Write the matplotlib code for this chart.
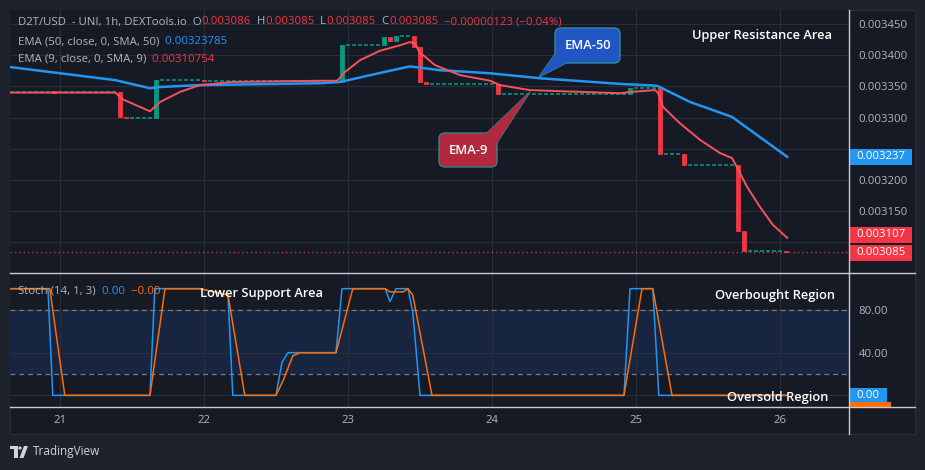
import numpy as np
import matplotlib
matplotlib.use('Agg')
from matplotlib import pyplot as plt
from matplotlib.patches import Rectangle, Polygon, FancyBboxPatch, Circle
from matplotlib.lines import Line2D

plt.rcParams['font.family'] = ['Open Sans', 'DejaVu Sans']

# hours counted from 21st 00:00
candle_hours = [-1, 10, 11, 16, 24, 47, 54, 55, 56, 59, 60, 61, 73, 95, 100, 104, 113, 114, 121]
candle_open = [0.003342, 0.003341, 0.003301, 0.003299, 0.003361, 0.003357, 0.003416, 0.003429,
               0.003423, 0.003431, 0.003413, 0.003357, 0.003354, 0.003338, 0.003347, 0.003241,
               0.003224, 0.003118, 0.003086]
candle_close = [0.003340, 0.003301, 0.003299, 0.003361, 0.003358, 0.003416, 0.003429, 0.003423,
                0.003431, 0.003413, 0.003357, 0.003354, 0.003338, 0.003347, 0.003241, 0.003224,
                0.003118, 0.003086, 0.003085]

# runs of flat hourly candles (open == close)
flat_start = [-8, 12, 17, 25, 48, 57, 62, 74, 96, 101, 105, 115]
flat_end = [9, 15, 23, 46, 53, 58, 72, 94, 99, 103, 112, 120]
flat_price = [0.003341, 0.003299, 0.003361, 0.003358, 0.003416, 0.003431, 0.003354, 0.003338,
              0.003347, 0.003241, 0.003224, 0.003086]

ema9_hours = [-8.3, 9.2, 10.5, 15, 15.8, 16.7, 20, 23.3, 28.8, 43.3, 46.2, 47.5, 50, 53.3, 56.7,
              58.3, 59.2, 60, 60.8, 62.5, 66.7, 71.7, 73.3, 78.3, 93.3, 95, 99.2, 99.7, 100.5,
              103.3, 106.7, 110, 112, 112.8, 114.5, 116.7, 118.8, 121.2]
ema9 = [0.003340, 0.003340, 0.003329, 0.003310, 0.003317, 0.003325, 0.003341, 0.003352, 0.003357,
        0.003359, 0.003359, 0.003373, 0.003392, 0.003407, 0.003416, 0.003421, 0.003419, 0.003403,
        0.003398, 0.003384, 0.003368, 0.003359, 0.003352, 0.003344, 0.003339, 0.003341, 0.003344,
        0.003339, 0.003317, 0.003291, 0.003264, 0.003243, 0.003235, 0.003221, 0.003189, 0.003156,
        0.003128, 0.003107]

ema50_hours = [-8.3, 9.2, 15, 16.7, 23.3, 43.3, 46.7, 51.7, 58.3, 63.3, 71.7, 80, 93.3, 99.5,
               105, 112, 121.2]
ema50 = [0.003381, 0.003360, 0.003347, 0.003349, 0.003352, 0.003355, 0.003357, 0.003368,
         0.003382, 0.003376, 0.003371, 0.003363, 0.003354, 0.003351, 0.003325, 0.003301, 0.003237]

stoch_k_hours = [-8.3, -2, -1.2, 15, 15.8, 23.3, 28, 28.8, 36, 37, 38, 46, 47, 54.2, 55, 56, 58,
                 58.8, 60, 94, 95, 98.8, 99.8, 121.2]
stoch_k = [100, 100, 0, 0, 100, 100, 94, 0, 0, 31, 40, 40, 100, 100, 88, 100, 100, 78, 0, 0,
           100, 100, 0, 0]
stoch_d_hours = [-8.3, -1.7, 0.8, 15, 17.5, 23.3, 28, 30.8, 36, 37.2, 38.8, 40, 46, 48.8, 54.2,
                 55, 57.2, 58, 58.8, 62, 94, 97, 98.8, 102, 121.2]
stoch_d = [100, 100, 0, 0, 100, 100, 94, 0, 0, 14, 37, 40, 40, 100, 100, 97, 97, 100, 94, 0, 0,
           100, 100, 0, 0]

day_ticks = [0, 24, 48, 72, 96, 120]
day_labels = ['21', '22', '23', '24', '25', '26']
price_ticks = [0.00310, 0.00315, 0.00320, 0.00325, 0.00330, 0.00335, 0.00340, 0.00345]
hidden_ticks = [0.00310, 0.00325]   # covered by the value boxes

BG = '#161a25'
OUTER = '#1e222d'
GRID = '#2a2e39'
TXT = '#b2b5be'
RED = '#f23645'
GREEN = '#089981'
BLUE = '#2196f3'
ORANGE = '#ff6d00'
W, H = 925, 470
FS = 8.2


def fx(x):
    return x / W


def fy(y):
    return 1 - y / H


fig = plt.figure(figsize=(9.25, 4.70), dpi=100, facecolor=OUTER)
fig.add_artist(Rectangle((fx(10), fy(434)), fx(905), 424 / H, transform=fig.transFigure,
                         fc=BG, ec='#2a2e39', lw=0.8, zorder=-5))

ax = fig.add_axes([fx(10), fy(273), 839 / W, 263 / H])
ax2 = fig.add_axes([fx(10), fy(407), 839 / W, 134 / H], sharex=ax)
for a in (ax, ax2):
    a.set_facecolor(BG)
    for s in a.spines.values():
        s.set_visible(False)
    a.grid(True, color=GRID, lw=0.8)
    a.set_axisbelow(True)
    a.yaxis.tick_right()
    a.tick_params(length=0, labelcolor=TXT, labelsize=FS)

ax.set_xlim(-8.33, 131.5)
ax.set_ylim(0.0030506, 0.0034725)
ax.set_yticks(price_ticks)
ax.set_yticklabels(['' if p in hidden_ticks else f'{p:.6f}' for p in price_ticks])
ax.tick_params(axis='y', pad=7)
ax.set_xticks(day_ticks)
ax.tick_params(axis='x', labelbottom=False)

# flat candles
for s, e, p in zip(flat_start, flat_end, flat_price):
    hs = np.arange(s, e + 1)
    ax.hlines([p] * len(hs), hs - 0.33, hs + 0.33, color=GREEN, lw=1.1, zorder=2)

# moving candles
for h, o, c in zip(candle_hours, candle_open, candle_close):
    col = GREEN if c > o else RED
    ax.bar(h, c - o, bottom=o, width=0.7, color=col, edgecolor=col, lw=0.6, zorder=3)

ax.plot(ema50_hours, ema50, color=BLUE, lw=1.8, zorder=4)
ax.plot(ema9_hours, ema9, color='#f7525f', lw=1.4, zorder=4)
ax.axhline(candle_close[-1], color=RED, ls=(0, (1, 2.5)), lw=0.9, zorder=1)

# right price labels (ema9 box nudged up so it stacks on the last-price box)
ytr = ax.get_yaxis_transform()
ppx = (0.0034725 - 0.0030506) / 263
for val, shift, col in [(ema50[-1], 0, BLUE), (ema9[-1], 3, RED), (candle_close[-1], -1, RED)]:
    yc = val + shift * ppx
    ax.add_patch(Rectangle((1.0, yc - 8 * ppx), 63 / 839, 16 * ppx, transform=ytr,
                           fc=col, ec='none', clip_on=False, zorder=6))
    ax.text(1.0 + 7 / 839, yc, f'{val:.6f}', transform=ytr, color='white', fontsize=FS,
            va='center', ha='left', clip_on=False, zorder=7)

# stochastic pane
ax2.set_ylim(-10.9, 114.7)
ax2.set_yticks([0, 40, 80])
ax2.set_yticklabels(['', '40.00', '80.00'])
ax2.tick_params(axis='y', pad=7)
ax2.set_xticks(day_ticks)
ax2.set_xticklabels(day_labels)
ax2.tick_params(axis='x', pad=6)
ax2.axhspan(20, 80, color='#182540', zorder=0.5, lw=0)
for lvl in (20, 80):
    ax2.axhline(lvl, color='#787b86', ls=(0, (4, 3)), lw=0.9, zorder=1)
ax2.plot(stoch_k_hours, stoch_k, color=BLUE, lw=1.1, zorder=3)
ax2.plot(stoch_d_hours, stoch_d, color=ORANGE, lw=1.1, zorder=4)

ytr2 = ax2.get_yaxis_transform()
spx = 125.6 / 134
ax2.add_patch(Rectangle((1.0, -11.5), 42 / 839, 5.5 * spx, transform=ytr2, fc=ORANGE,
                        ec='none', clip_on=False, zorder=6))
ax2.add_patch(Rectangle((1.0, 0 - 7 * spx), 38 / 839, 14 * spx, transform=ytr2, fc=BLUE,
                        ec='none', clip_on=False, zorder=7))
ax2.text(1.0 + 7 / 839, 0, f'{stoch_k[-1]:.2f}', transform=ytr2, color='white', fontsize=FS,
         va='center', ha='left', clip_on=False, zorder=8)

# separator lines
for y in (273, 407):
    fig.add_artist(Line2D([fx(10), fx(915)], [fy(y), fy(y)], transform=fig.transFigure,
                          color='#c9cbd1', lw=1))
fig.add_artist(Line2D([fx(849), fx(849)], [fy(10), fy(434)], transform=fig.transFigure,
                      color='#c9cbd1', lw=1))

# legends
rend = fig.canvas.get_renderer()


def chain(x, y, parts, size=FS):
    for s, c in parts:
        t = fig.text(fx(x), fy(y), s, color=c, fontsize=size, va='center', ha='left')
        x += t.get_window_extent(renderer=rend).width


chain(18, 22, [('D2T/USD  - UNI, 1h, DEXTools.io  O', TXT), ('0.003086', RED), ('  H', TXT),
               ('0.003085', RED), ('  L', TXT), ('0.003085', RED), ('  C', TXT),
               ('0.003085', RED), ('  \u22120.00000123 (\u22120.04%)', RED)])
chain(18, 42, [('EMA (50, close, 0, SMA, 50)', TXT), ('  0.00323785', BLUE)])
chain(18, 59, [('EMA (9, close, 0, SMA, 9)', TXT), ('  0.00310754', RED)])
chain(18, 291, [('Stoch (14, 1, 3)', TXT), ('  0.00', BLUE), ('  \u22120.00', ORANGE)])

# annotations
for s, x, y in [('Upper Resistance Area', 762, 36), ('Lower Support Area', 262, 294),
                ('Overbought Region', 775, 296), ('Oversold Region', 778, 398)]:
    fig.text(fx(x), fy(y), s, color='white', fontsize=9.3, ha='center', va='center',
             fontweight='semibold')


def ix(x):
    return x / 100


def iy(y):
    return (H - y) / 100


def callout(box, tail, fc, ec, label):
    x0, y0, x1, y1 = box
    tr = fig.dpi_scale_trans
    fig.add_artist(Polygon([(ix(a), iy(b)) for a, b in tail], closed=True, transform=tr,
                           fc=fc, ec=ec, lw=1, zorder=10))
    fig.add_artist(FancyBboxPatch((ix(x0), iy(y1)), ix(x1 - x0), (y1 - y0) / 100,
                                  boxstyle='round,pad=0,rounding_size=0.06', transform=tr,
                                  fc=fc, ec=ec, lw=1, zorder=11))
    fig.add_artist(Polygon([(ix(a), iy(b)) for a, b in tail], closed=True, transform=tr,
                           fc=fc, ec='none', zorder=12))
    fig.text(fx((x0 + x1) / 2), fy((y0 + y1) / 2), label, color='white', fontsize=9.3,
             fontweight='semibold', ha='center', va='center', zorder=13)


callout((555, 28, 620, 63), [(555, 54), (539, 77), (568, 62)], '#2255c4', '#2f8c9a', 'EMA-50')
callout((439, 133, 497, 167), [(486, 134), (530, 92), (496, 144)], '#b2283c', '#3b7f8c', 'EMA-9')

# footer logo
tr = fig.dpi_scale_trans
fig.add_artist(Rectangle((ix(10), iy(449)), 0.08, 0.03, transform=tr, fc='#d1d4dc', ec='none'))
fig.add_artist(Rectangle((ix(14), iy(458)), 0.035, 0.12, transform=tr, fc='#d1d4dc', ec='none'))
fig.add_artist(Circle((ix(20), iy(448)), 0.016, transform=tr, fc='#d1d4dc', ec='none'))
fig.add_artist(Polygon([(ix(19.5), iy(458)), (ix(24), iy(446)), (ix(28), iy(446)),
                        (ix(23.5), iy(458))], transform=tr, fc='#d1d4dc', ec='none'))
fig.text(fx(33), fy(452), 'TradingView', color='#d1d4dc', fontsize=8.5, ha='left', va='center')

fig.savefig('out.png', dpi=100, facecolor=OUTER)
